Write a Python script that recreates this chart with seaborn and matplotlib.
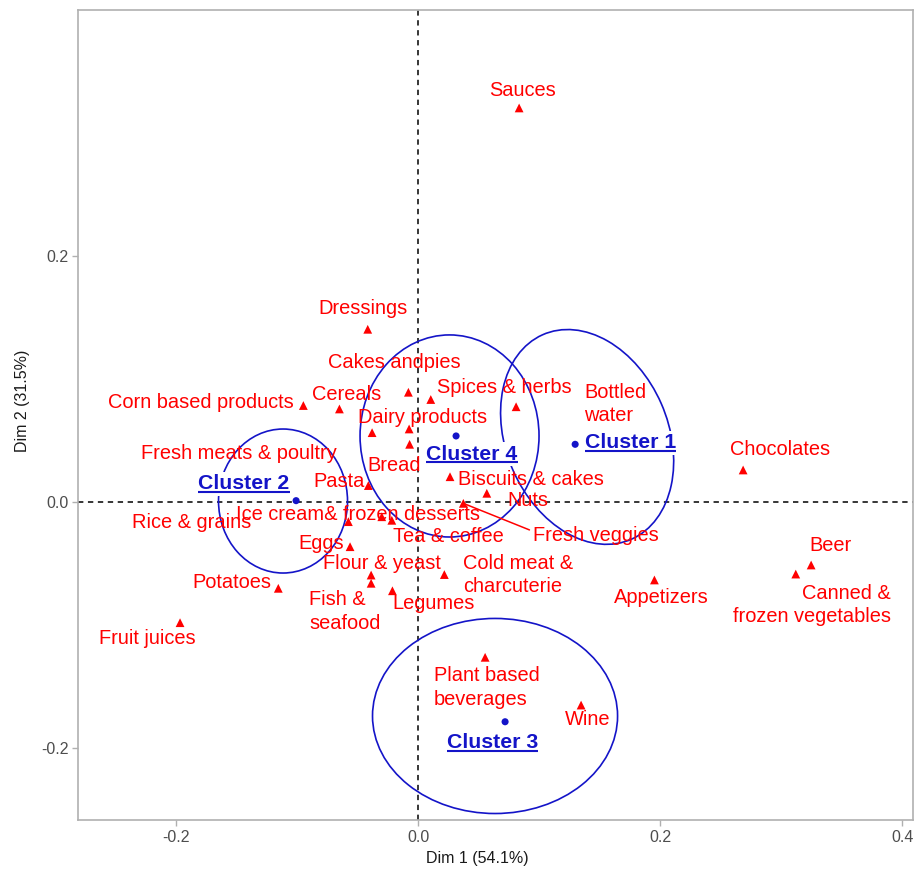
import matplotlib
matplotlib.use("Agg")
import matplotlib.pyplot as plt
import pandas as pd
import seaborn as sns
from matplotlib.patches import Ellipse

# food categories and their coordinates on the first two dimensions
FOODS = [
    "Sauces", "Dressings", "Cakes andpies", "Spices & herbs", "Bottled\nwater",
    "Corn based products", "Cereals", "Fresh meats & poultry", "Dairy products", "Bread",
    "Pasta", "Biscuits & cakes", "Nuts", "Fresh veggies", "Rice & grains",
    "Ice cream& frozen desserts", "Tea & coffee", "Eggs", "Flour & yeast", "Fish &\nseafood",
    "Legumes", "Cold meat &\ncharcuterie", "Potatoes", "Fruit juices", "Plant based\nbeverages",
    "Wine", "Appetizers", "Beer", "Canned &\nfrozen vegetables", "Chocolates",
]
DIM1 = [
    0.0835, -0.0416, -0.0080, 0.0105, 0.0810,
    -0.0948, -0.0650, -0.0380, -0.0074, -0.0070,
    -0.0411, 0.0264, 0.0568, 0.0374, -0.0576,
    -0.0300, -0.0217, -0.0562, -0.0388, -0.0388,
    -0.0212, 0.0217, -0.1155, -0.1967, 0.0554,
    0.1347, 0.1953, 0.3248, 0.3121, 0.2686,
]
DIM2 = [
    0.3210, 0.1407, 0.0894, 0.0835, 0.0776,
    0.0786, 0.0758, 0.0565, 0.0595, 0.0470,
    0.0134, 0.0206, 0.0071, -0.0011, -0.0160,
    -0.0120, -0.0149, -0.0364, -0.0595, -0.0662,
    -0.0723, -0.0591, -0.0703, -0.0983, -0.1265,
    -0.1654, -0.0635, -0.0513, -0.0587, 0.0261,
]

CLUSTERS = ["Cluster 1", "Cluster 2", "Cluster 3", "Cluster 4"]
CLUSTER_DIM1 = [0.1298, -0.1008, 0.0719, 0.0314]
CLUSTER_DIM2 = [0.0470, 0.0011, -0.1790, 0.0538]

# outline drawn around each cluster: centre, width, height, rotation
ELLIPSE_X = [0.1397, -0.1116, 0.0636, 0.0260]
ELLIPSE_Y = [0.0530, 0.0008, -0.1743, 0.0538]
ELLIPSE_W = [0.1340, 0.1066, 0.2025, 0.1479]
ELLIPSE_H = [0.1820, 0.1173, 0.1589, 0.1646]
ELLIPSE_ANGLE = [24, 0, 0, 0]

# where the repelled labels ended up (x, y, horizontal alignment)
LABEL_POS = {
    "Sauces": (0.0860, 0.3348, "center"),
    "Dressings": (-0.0455, 0.1580, "center"),
    "Cakes andpies": (-0.0198, 0.1133, "center"),
    "Spices & herbs": (0.0711, 0.0929, "center"),
    "Bottled\nwater": (0.1372, 0.0798, "left"),
    "Corn based products": (-0.1798, 0.0807, "center"),
    "Cereals": (-0.0587, 0.0872, "center"),
    "Fresh meats & poultry": (-0.1483, 0.0399, "center"),
    "Dairy products": (0.0041, 0.0692, "center"),
    "Bread": (-0.0194, 0.0301, "center"),
    "Pasta": (-0.0657, 0.0171, "center"),
    "Biscuits & cakes": (0.0930, 0.0187, "center"),
    "Nuts": (0.0905, 0.0016, "center"),
    "Fresh veggies": (0.1467, -0.0269, "center"),
    "Rice & grains": (-0.1872, -0.0171, "center"),
    "Ice cream& frozen desserts": (-0.0500, -0.0098, "center"),
    "Tea & coffee": (0.0252, -0.0277, "center"),
    "Eggs": (-0.0802, -0.0334, "center"),
    "Flour & yeast": (-0.0302, -0.0497, "center"),
    "Fish &\nseafood": (-0.0901, -0.0892, "left"),
    "Legumes": (0.0124, -0.0823, "center"),
    "Cold meat &\ncharcuterie": (0.0372, -0.0595, "left"),
    "Potatoes": (-0.1541, -0.0652, "center"),
    "Fruit juices": (-0.2236, -0.1108, "center"),
    "Plant based\nbeverages": (0.0132, -0.1511, "left"),
    "Wine": (0.1401, -0.1768, "center"),
    "Appetizers": (0.2008, -0.0774, "center"),
    "Beer": (0.3409, -0.0358, "center"),
    "Canned &\nfrozen vegetables": (0.3909, -0.0839, "right"),
    "Chocolates": (0.2988, 0.0424, "center"),
}
CLUSTER_LABEL_POS = [(0.1756, 0.0481), (-0.1438, 0.0147), (0.0616, -0.1963), (0.0446, 0.0391)]

RED = "#FF0000"
BLUE = "#1414C8"

sns.set_theme(style="white")
plt.rcParams["font.family"] = ["Liberation Sans", "DejaVu Sans"]

foods = pd.DataFrame({"food": FOODS, "dim1": DIM1, "dim2": DIM2})
centres = pd.DataFrame({"cluster": CLUSTERS, "dim1": CLUSTER_DIM1, "dim2": CLUSTER_DIM2})

fig = plt.figure(figsize=(9.19, 8.75), dpi=100)
ax = fig.add_axes([0.0849, 0.0629, 0.9086, 0.9257])

ax.axhline(0, color="black", lw=1.1, ls=(0, (3.5, 3)), zorder=1)
ax.axvline(0, color="black", lw=1.1, ls=(0, (3.5, 3)), zorder=1)

for cx, cy, w, h, ang in zip(ELLIPSE_X, ELLIPSE_Y, ELLIPSE_W, ELLIPSE_H, ELLIPSE_ANGLE):
    ax.add_patch(Ellipse((cx, cy), w, h, angle=ang, fill=False,
                         edgecolor=BLUE, lw=1.2, zorder=2))

sns.scatterplot(data=foods, x="dim1", y="dim2", marker="^", color=RED,
                s=40, edgecolor="none", ax=ax, zorder=3, legend=False)
sns.scatterplot(data=centres, x="dim1", y="dim2", marker="o", color=BLUE,
                s=26, edgecolor="none", ax=ax, zorder=3, legend=False)

for name, x, y in zip(FOODS, DIM1, DIM2):
    lx, ly, ha = LABEL_POS[name]
    if name == "Fresh veggies":
        ax.annotate(name, xy=(x, y), xytext=(lx, ly), ha=ha, va="center",
                    color=RED, fontsize=14.4, zorder=4,
                    arrowprops=dict(arrowstyle="-", color=RED, lw=1.1,
                                    shrinkA=0, shrinkB=0, relpos=(0, 0.7)))
    else:
        ax.text(lx, ly, name, ha=ha, va="center", multialignment=ha,
                color=RED, fontsize=14.4, linespacing=1.3, zorder=4)

cluster_texts = []
for name, (lx, ly) in zip(CLUSTERS, CLUSTER_LABEL_POS):
    t = ax.text(lx, ly, name, ha="center", va="center", color=BLUE,
                fontsize=15.3, fontweight="bold", zorder=5,
                bbox=dict(boxstyle="square,pad=0.12", fc="white", ec="none"))
    cluster_texts.append(t)

ax.set_xlim(-0.281, 0.409)
ax.set_ylim(-0.259, 0.4008)
ax.set_xticks([-0.2, 0.0, 0.2, 0.4])
ax.set_yticks([-0.2, 0.0, 0.2])
ax.set_xticklabels(["-0.2", "0.0", "0.2", "0.4"])
ax.set_yticklabels(["-0.2", "0.0", "0.2"])
ax.tick_params(axis="both", which="both", length=4, width=1, color="#B0B0B0",
               labelcolor="#4D4D4D", labelsize=11.5, bottom=True, left=True, pad=3)

for spine in ax.spines.values():
    spine.set_color("#B0B0B0")
    spine.set_linewidth(1.2)

ax.set_xlabel("Dim 1 (54.1%)", fontsize=11.5, color="#1A1A1A")
ax.set_ylabel("Dim 2 (31.5%)", fontsize=11.5, color="#1A1A1A")
ax.xaxis.set_label_coords(0.478, -0.038)
ax.yaxis.set_label_coords(-0.058, 0.517)

# underline the cluster labels
fig.canvas.draw()
renderer = fig.canvas.get_renderer()
inv = ax.transData.inverted()
for t in cluster_texts:
    bb = t.get_window_extent(renderer)
    (x0, y0), (x1, _) = inv.transform([[bb.x0, bb.y0 + 1.5], [bb.x1, bb.y0 + 1.5]])
    ax.plot([x0, x1], [y0, y0], color=BLUE, lw=1.5, zorder=6, solid_capstyle="butt")

fig.savefig("out.png", dpi=100)
